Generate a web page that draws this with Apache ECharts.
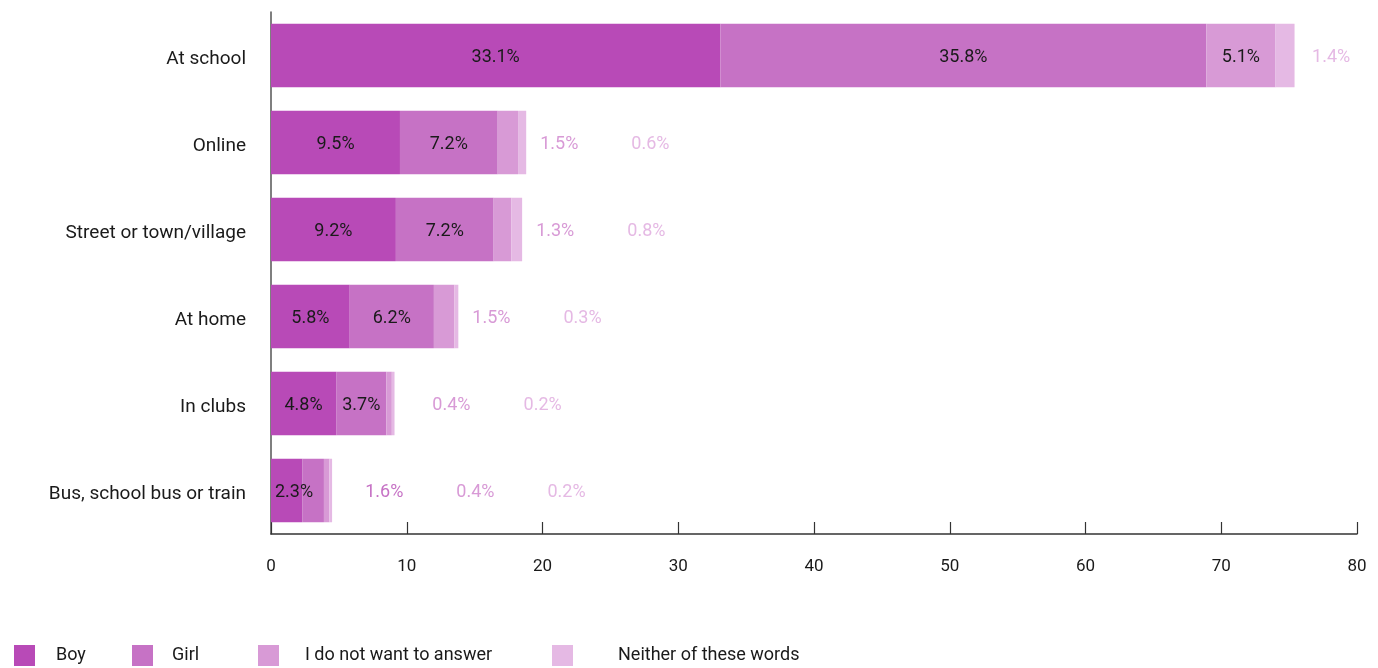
<!DOCTYPE html>
<html>
<head>
<meta charset="utf-8">
<script src="https://cdn.jsdelivr.net/npm/echarts@6/dist/echarts.min.js"></script>
<style>
  html, body { margin: 0; padding: 0; background: #ffffff; }
  #chart { width: 1378px; height: 668px; }
</style>
</head>
<body>
<div id="chart"></div>
<script>
// Where pupils experienced it, split by how they describe themselves (%)
const categories = ['At school', 'Online', 'Street or town/village', 'At home', 'In clubs', 'Bus, school bus or train'];
const seriesNames = ['Boy', 'Girl', 'I do not want to answer', 'Neither of these words'];
const boy      = [33.1, 9.5, 9.2, 5.8, 4.8, 2.3];
const girl     = [35.8, 7.2, 7.2, 6.2, 3.7, 1.6];
const noAnswer = [5.1, 1.5, 1.3, 1.5, 0.4, 0.4];
const neither  = [1.4, 0.6, 0.8, 0.3, 0.2, 0.2];
const axisMin = 0, axisMax = 80, axisStep = 10;

const seriesValues = [boy, girl, noAnswer, neither];
const colors = ['#b84ab7', '#c672c5', '#d89ad6', '#e5b9e4'];
const FONT = 'Roboto, "Open Sans", sans-serif';
const VALUE_FONT_SIZE = 18;

const chart = echarts.init(document.getElementById('chart'), null, { renderer: 'canvas' });

const fmt = v => v.toFixed(1) + '%';

function baseOption() {
  return {
    animation: false,
    backgroundColor: '#ffffff',
    textStyle: { fontFamily: FONT },
    grid: { left: 271, right: 21, top: 12, bottom: 134, containLabel: false },
    xAxis: {
      type: 'value',
      min: axisMin, max: axisMax, interval: axisStep,
      axisLine: { show: true, lineStyle: { color: '#333333', width: 1.5 } },
      axisTick: { show: true, inside: true, length: 12, lineStyle: { color: '#333333', width: 1.2 } },
      axisLabel: { color: '#1a1a1a', fontSize: 17, fontFamily: FONT, margin: 24 },
      splitLine: { show: false }
    },
    yAxis: {
      type: 'category',
      data: categories,
      inverse: true,
      axisLine: { show: true, lineStyle: { color: '#555555', width: 1.5 } },
      axisTick: { show: false },
      axisLabel: {
        color: '#1a1a1a', fontSize: 19, fontFamily: FONT, margin: 25,
        formatter: v => '{c|' + v + '}',
        rich: {
          c: {
            color: '#1a1a1a', fontSize: 19, fontFamily: FONT,
            lineHeight: 27, verticalAlign: 'bottom'
          }
        }
      }
    },
    legend: seriesNames.map((name, i) => ({
      data: [name],
      left: [14, 132, 258, 552][i],
      top: 645,
      padding: 0,
      itemWidth: 21,
      itemHeight: 21,
      icon: 'rect',
      selectedMode: false,
      textStyle: {
        color: '#1a1a1a', fontSize: 18, fontFamily: FONT,
        padding: [0, 0, 0, [16, 14, 21, 40][i]]
      }
    })),
    series: seriesNames.map((name, i) => ({
      name: name,
      type: 'bar',
      stack: 'total',
      barCategoryGap: '27%',
      itemStyle: { color: colors[i] },
      emphasis: { disabled: true },
      data: seriesValues[i].slice()
    }))
  };
}

chart.setOption(baseOption());

// Lay out value labels: wide segments carry their label inside, narrow ones
// are set out in a row to the right of the bar, tinted with the series colour.
const ctx = document.createElement('canvas').getContext('2d');
ctx.font = VALUE_FONT_SIZE + 'px ' + FONT;
const textWidth = s => ctx.measureText(s).width;
const px = v => chart.convertToPixel({ xAxisIndex: 0 }, v);

const opt = baseOption();
categories.forEach((cat, c) => {
  let start = 0;
  const total = seriesValues.reduce((s, arr) => s + arr[c], 0);
  const barEnd = px(total);
  let prevRight = -Infinity;   // right edge of the last label drawn in this row
  let outsideCount = 0;
  seriesValues.forEach((arr, s) => {
    const v = arr[c];
    const x0 = px(start), x1 = px(start + v);
    const w = x1 - x0;
    const label = fmt(v);
    const tw = textWidth(label);
    let lbl;
    if (w >= 30) {
      const fits = tw + 6 <= w;
      lbl = {
        show: true,
        position: fits ? 'inside' : 'insideLeft',
        distance: 4,
        offset: [0, 2],
        color: '#1a1a1a',
        fontSize: VALUE_FONT_SIZE,
        fontFamily: FONT,
        formatter: p => fmt(p.value)
      };
      prevRight = fits ? (x0 + x1) / 2 + tw / 2 : x0 + 4 + tw;
    } else {
      const left = outsideCount === 0
        ? Math.max(barEnd + 14, prevRight + 52)
        : prevRight + 53;
      lbl = {
        show: true,
        position: [left - x0, '50%'],
        align: 'left',
        verticalAlign: 'middle',
        offset: [0, 2],
        color: colors[s],
        fontSize: VALUE_FONT_SIZE,
        fontFamily: FONT,
        formatter: p => fmt(p.value)
      };
      prevRight = left + tw;
      outsideCount++;
    }
    opt.series[s].data[c] = { value: v, label: lbl };
    start += v;
  });
});

chart.setOption(opt, true);
</script>
</body>
</html>
